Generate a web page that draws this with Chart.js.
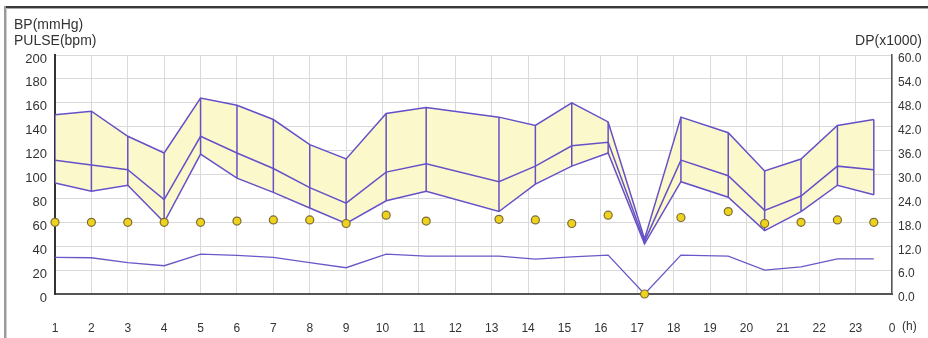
<!DOCTYPE html>
<html><head><meta charset="utf-8">
<script src="https://cdn.jsdelivr.net/npm/chart.js@4"></script>
<style>html,body{margin:0;padding:0;background:#fff;overflow:hidden}canvas{display:block}</style>
</head><body>
<canvas id="c" width="928" height="338"></canvas>
<script>
// Measurement times (hour of day)
const times  = [1, 2, 3, 4, 5, 6, 7, 8, 9, 10.1, 11.2, 13.2, 14.2, 15.2, 16.2, 17.2, 18.2, 19.5, 20.5, 21.5, 22.5, 23.5];
// Systolic / mean / diastolic BP (mmHg)
const sysBP  = [150, 153, 132, 118, 164, 158, 146, 125, 113, 151, 156, 148, 141, 160, 144, 46, 148, 135, 103, 113, 141, 146];
const meanBP = [112, 108, 104, 79, 132, 118, 105, 89, 76, 102, 109, 94, 107, 124, 127, 44, 112, 99, 70, 82, 107, 104];
const diaBP  = [93, 86, 91, 60, 117, 97, 85, 72, 59, 78, 86, 69, 92, 107, 118, 42, 94, 81, 53, 69, 91, 83];
// Pulse (bpm)
const pulse  = [60, 60, 60, 60, 60, 61, 62, 62, 59, 66, 61, 62.5, 62, 59, 66, 0, 64, 69, 59, 60, 62, 60];
// Double product (x1000)
const dpK    = [9.2, 9.1, 7.9, 7.1, 10.0, 9.7, 9.2, 7.9, 6.6, 10.0, 9.5, 9.5, 8.75, 9.3, 9.75, 0, 9.75, 9.5, 6.0, 6.8, 8.8, 8.8];
// Axis tick labels
const hourLabels = ['1','2','3','4','5','6','7','8','9','10','11','12','13','14','15','16','17','18','19','20','21','22','23','0'];
const bpTicks = [0,20,40,60,80,100,120,140,160,180,200];
const dpTicks = [0,6,12,18,24,30,36,42,48,54,60];

const LINE = '#6650c8', FILL = '#fbf9cc', GRID = '#dadada', TXT = '#333';
const FONT = '"Liberation Sans", Arial, sans-serif';

const pts = arr => times.map((t, i) => ({x: t, y: arr[i]}));
const vert = [];
times.forEach((t, i) => { vert.push({x: t, y: sysBP[i]}, {x: t, y: diaBP[i]}, {x: t, y: null}); });

const decor = {
  id: 'decor',
  beforeDraw(chart) {
    const c = chart.ctx;
    c.save();
    c.fillStyle = '#ffffff'; c.fillRect(0, 0, chart.width, chart.height);
    c.fillStyle = '#3a3a3a'; c.fillRect(4, 6, 924, 2);
    c.fillStyle = '#a8a8a8'; c.fillRect(6, 8, 922, 1);
    c.fillStyle = '#9a9a9a'; c.fillRect(4, 6, 2, 332);
    c.fillStyle = '#cfcfcf'; c.fillRect(6, 8, 1, 330);
    c.restore();
  },
  afterDraw(chart) {
    const c = chart.ctx;
    c.save();
    c.fillStyle = TXT;
    c.textBaseline = 'middle';
    c.font = '14px ' + FONT;
    c.textAlign = 'left';
    c.fillText('BP(mmHg)', 14, 25);
    c.fillText('PULSE(bpm)', 14, 41);
    c.textAlign = 'right';
    c.fillText('DP(x1000)', 922, 41);
    c.font = '12px ' + FONT;
    c.textAlign = 'left';
    c.fillText('(h)', 902, 327);
    c.restore();
  }
};

new Chart(document.getElementById('c'), {
  type: 'line',
  data: {
    datasets: [
      {label: 'SYS', data: pts(sysBP), borderColor: LINE, borderWidth: 1.5, pointRadius: 0, backgroundColor: FILL, fill: {target: 2}, yAxisID: 'y'},
      {label: 'MEAN', data: pts(meanBP), borderColor: LINE, borderWidth: 1.5, pointRadius: 0, fill: false, yAxisID: 'y'},
      {label: 'DIA', data: pts(diaBP), borderColor: LINE, borderWidth: 1.5, pointRadius: 0, fill: false, yAxisID: 'y'},
      {label: 'range', data: vert, borderColor: LINE, borderWidth: 1.5, pointRadius: 0, fill: false, spanGaps: false, yAxisID: 'y'},
      {label: 'PULSE', data: pts(pulse), showLine: false, pointRadius: 4, pointBackgroundColor: '#efd21c', pointBorderColor: '#7a6c3c', pointBorderWidth: 1.2, yAxisID: 'y', clip: false, order: -1},
      {label: 'DP', data: pts(dpK), borderColor: '#6a58c8', borderWidth: 1.3, pointRadius: 0, fill: false, yAxisID: 'y2'}
    ]
  },
  options: {
    responsive: false, animation: false, devicePixelRatio: 1,
    layout: {padding: {top: 55, left: 0, right: 0, bottom: 0}},
    plugins: {legend: {display: false}, tooltip: {enabled: false}, filler: {drawTime: 'beforeDatasetsDraw'}},
    elements: {line: {tension: 0}},
    scales: {
      x: {
        type: 'linear', min: 1, max: 24,
        afterBuildTicks: s => { s.ticks = hourLabels.map((_, i) => ({value: i + 1})); },
        ticks: {autoSkip: false, maxRotation: 0, padding: 27, color: TXT, font: {family: FONT, size: 12}, callback: v => hourLabels[Math.round(v) - 1]},
        grid: {color: GRID, lineWidth: 1, drawTicks: false},
        border: {color: '#555', width: 2},
        afterFit: s => { s.height = 44; }
      },
      y: {
        position: 'left', min: 0, max: 200,
        afterBuildTicks: s => { s.ticks = bpTicks.map(v => ({value: v})); },
        ticks: {padding: 8, labelOffset: 4, color: TXT, font: {family: FONT, size: 13}},
        grid: {color: GRID, lineWidth: 1, drawTicks: false},
        border: {color: '#333', width: 2},
        afterFit: s => { s.width = 55; }
      },
      y2: {
        position: 'right', min: 0, max: 60,
        afterBuildTicks: s => { s.ticks = dpTicks.map(v => ({value: v})); },
        ticks: {padding: 6, labelOffset: 4, color: TXT, font: {family: FONT, size: 12}, callback: v => Number(v).toFixed(1)},
        grid: {display: false, drawTicks: false},
        border: {color: '#555', width: 1.5},
        afterFit: s => { s.width = 36; }
      }
    }
  },
  plugins: [decor]
});
</script>
</body></html>
